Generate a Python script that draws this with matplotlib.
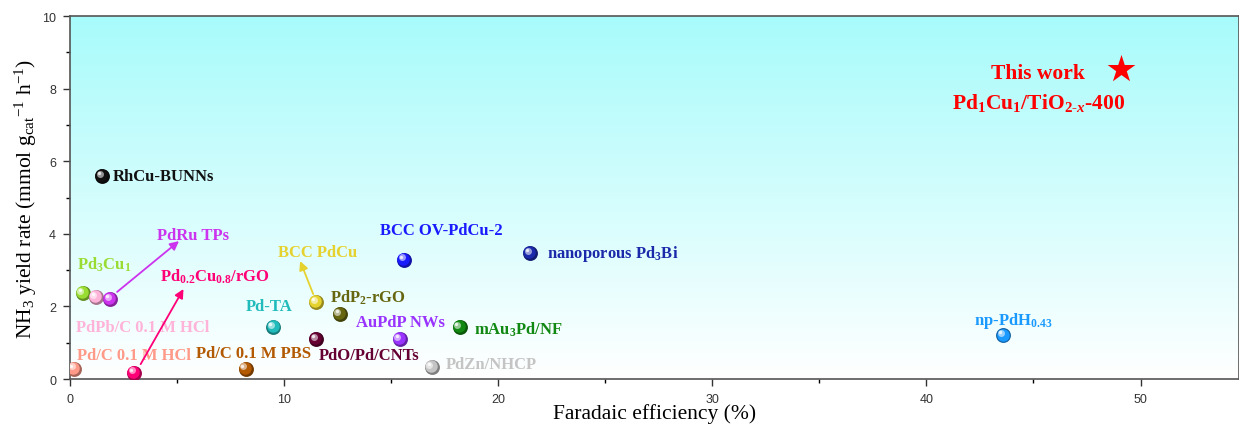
import numpy as np
import matplotlib
matplotlib.use("Agg")
import matplotlib.pyplot as plt
from matplotlib.colors import LinearSegmentedColormap, to_rgb
from matplotlib.transforms import ScaledTranslation

plt.rcParams['mathtext.fontset'] = 'custom'
plt.rcParams['mathtext.rm'] = 'Liberation Serif:bold'
plt.rcParams['mathtext.it'] = 'Liberation Serif:italic:bold'
plt.rcParams['mathtext.bf'] = 'Liberation Serif:bold'
plt.rcParams['mathtext.sf'] = 'Liberation Serif'

# ---------------------------------------------------------------------------
# Literature data: Faradaic efficiency (%) and NH3 yield (mmol g-1 h-1)
# ---------------------------------------------------------------------------
names = ["RhCu-BUNNs", "Pd3Cu1", "PdPb/C 0.1 M HCl", "PdRu TPs",
         "Pd/C 0.1 M HCl", "Pd0.2Cu0.8/rGO", "Pd/C 0.1 M PBS", "Pd-TA",
         "BCC PdCu", "PdP2-rGO", "PdO/Pd/CNTs", "AuPdP NWs", "BCC OV-PdCu-2",
         "PdZn/NHCP", "mAu3Pd/NF", "nanoporous Pd3Bi", "np-PdH0.43"]
fe = [1.5, 0.6, 1.2, 1.87, 0.19, 3.0, 8.2, 9.5, 11.5, 12.6, 11.5, 15.4, 15.6,
      16.9, 18.2, 21.5, 43.6]
yield_rate = [5.59, 2.37, 2.26, 2.2, 0.28, 0.17, 0.28, 1.43, 2.12, 1.79, 1.1,
              1.1, 3.28, 0.33, 1.43, 3.47, 1.2]
colors = ["#111111", "#99dd33", "#ffb3d9", "#cc33ee", "#ff9988", "#ff0077",
          "#b35900", "#22bbbb", "#e6d22e", "#666611", "#660033", "#9933ff",
          "#1a1aff", "#c4c4c4", "#118811", "#1a2aaa", "#1a99ff"]

this_work_fe = 49.1
this_work_yield = 8.54

# label text, anchor (x, y) in data units
labels = [
    (r"RhCu-BUNNs", 2.0, 5.59),
    (r"Pd$_3$Cu$_1$", 0.33, 3.17),
    (r"PdPb/C 0.1 M HCl", 0.28, 1.43),
    (r"PdRu TPs", 4.07, 3.97),
    (r"Pd/C 0.1 M HCl", 0.33, 0.66),
    (r"Pd$_{0.2}$Cu$_{0.8}$/rGO", 4.2, 2.84),
    (r"Pd/C 0.1 M PBS", 5.9, 0.72),
    (r"Pd-TA", 8.2, 2.01),
    (r"BCC PdCu", 9.7, 3.5),
    (r"PdP$_2$-rGO", 12.15, 2.26),
    (r"PdO/Pd/CNTs", 11.6, 0.66),
    (r"AuPdP NWs", 13.36, 1.57),
    (r"BCC OV-PdCu-2", 14.49, 4.1),
    (r"PdZn/NHCP", 17.57, 0.41),
    (r"mAu$_3$Pd/NF", 18.88, 1.38),
    (r"nanoporous Pd$_3$Bi", 22.29, 3.47),
    (r"np-PdH$_{0.43}$", 42.2, 1.62),
]

# arrows: (tail, head, color)
arrows = [
    ((2.2, 2.4), (5.09, 3.8), "#cc33ee"),
    ((3.3, 0.41), (5.3, 2.48), "#ff0077"),
    ((11.36, 2.34), (10.75, 3.25), "#e6d22e"),
]


def blend(c, target, t):
    c = np.array(to_rgb(c))
    return tuple(c + (np.array(target) - c) * t)


fig = plt.figure(figsize=(12.39, 4.27), dpi=100)
ax = fig.add_axes([0.0565, 0.110, 0.9435, 0.850])

xmax = 54.6
ax.set_xlim(0, xmax)
ax.set_ylim(0, 10)

# cyan-to-white background
cmap = LinearSegmentedColormap.from_list("bg", ["#ffffff", "#a8fbfb"])
grad = np.linspace(0, 1, 256).reshape(-1, 1)
ax.imshow(grad, cmap=cmap, aspect="auto", extent=[0, xmax, 0, 10],
          origin="lower", zorder=0)

# shaded spheres
base_s = 115
for x, y, c in zip(fe, yield_rate, colors):
    ax.scatter(x, y, s=base_s, color=blend(c, (0, 0, 0), 0.35), zorder=3,
               linewidths=0)
    sh = ax.transData + ScaledTranslation(-0.6 / 72, 0.6 / 72, fig.dpi_scale_trans)
    ax.scatter(x, y, s=base_s * 0.7, color=c, zorder=4, linewidths=0,
               transform=sh)
    hl = ax.transData + ScaledTranslation(-1.8 / 72, 1.8 / 72, fig.dpi_scale_trans)
    ax.scatter(x, y, s=base_s * 0.22, color=blend(c, (1, 1, 1), 0.55),
               zorder=5, linewidths=0, transform=hl)
    hl2 = ax.transData + ScaledTranslation(-2.3 / 72, 2.3 / 72, fig.dpi_scale_trans)
    ax.scatter(x, y, s=base_s * 0.05, color=blend(c, (1, 1, 1), 0.9),
               zorder=6, linewidths=0, transform=hl2)

ax.scatter(this_work_fe, this_work_yield, marker="*", s=440, color="red",
           linewidths=0, zorder=6)

for (txt, lx, ly), c in zip(labels, colors):
    ax.text(lx, ly, txt, color=c, fontsize=12, fontweight="bold",
            family="Liberation Serif", va="center", ha="left", zorder=7)

ax.text(43.0, 8.43, "This work", color="red", fontsize=15.5, fontweight="bold",
        family="Liberation Serif", va="center", ha="left", zorder=7)
ax.text(41.2, 7.63, r"Pd$_1$Cu$_1$/TiO$_{2\text{-}x}$-400", color="red",
        fontsize=15.5, fontweight="bold", family="Liberation Serif",
        va="center", ha="left", zorder=7)

for tail, head, c in arrows:
    ax.annotate("", xy=head, xytext=tail,
                arrowprops=dict(arrowstyle="-|>", color=c, lw=1.3,
                                mutation_scale=13, shrinkA=0, shrinkB=0),
                zorder=7)

ax.set_xticks([0, 10, 20, 30, 40, 50])
ax.set_xticks([5, 15, 25, 35, 45], minor=True)
ax.set_yticks([0, 2, 4, 6, 8, 10])
ax.set_yticks([1, 3, 5, 7, 9], minor=True)
ax.tick_params(direction="out", length=5, width=1, labelsize=9,
               colors="#333333", pad=5)
ax.tick_params(which="minor", direction="out", length=3, width=1)
for lab in ax.get_xticklabels() + ax.get_yticklabels():
    lab.set_family("Liberation Sans")

for sp in ax.spines.values():
    sp.set_color("#555555")
    sp.set_linewidth(1.2)

ax.set_xlabel("Faradaic efficiency (%)", family="Liberation Serif",
              fontsize=15.5, labelpad=-1)
ax.set_ylabel(r"NH$\mathsf{_3}$ yield rate (mmol g$\mathsf{_{cat}}$$\mathsf{^{-1}}$ h$\mathsf{^{-1}}$)",
              family="Liberation Serif", fontsize=15.5, labelpad=2)

fig.savefig("out.png", dpi=100)
